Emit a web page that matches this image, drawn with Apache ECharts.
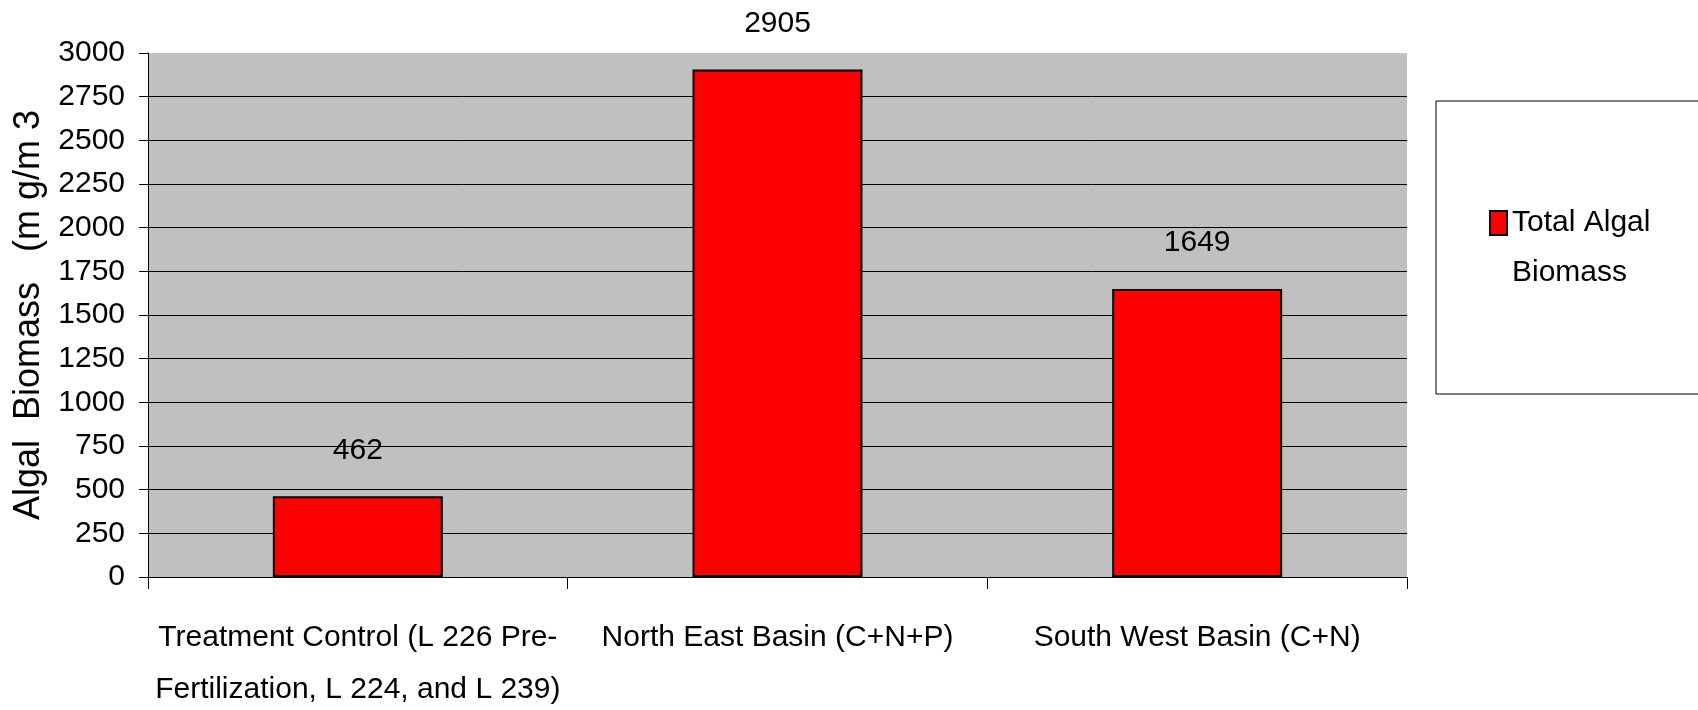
<!DOCTYPE html>
<html>
<head>
<meta charset="utf-8">
<script src="https://cdn.jsdelivr.net/npm/echarts@6/dist/echarts.min.js"></script>
<style>
  html, body { margin: 0; padding: 0; background: #fff; }
  #chart { width: 1698px; height: 710px; }
</style>
</head>
<body>
<div id="chart"></div>
<script>
// Algal biomass by treatment basin
const categories = [
  'Treatment Control (L 226 Pre-\nFertilization, L 224, and L 239)',
  'North East Basin (C+N+P)',
  'South West Basin (C+N)'
];
const biomass = [462, 2905, 1649];
const seriesName = 'Total Algal Biomass';
const legendLines = ['Total Algal', 'Biomass'];
const yTitle = 'Algal  Biomass   (m g/m 3';

const font = '"Liberation Sans", Arial, sans-serif';

const chart = echarts.init(document.getElementById('chart'), null, { renderer: 'canvas' });

chart.setOption({
  animation: false,
  backgroundColor: '#ffffff',
  grid: {
    left: 148, top: 53, width: 1259, height: 524,
    outerBoundsMode: 'none',
    containLabel: false,
    show: true, backgroundColor: '#c0c0c0', borderWidth: 0
  },
  legend: {
    left: 1436, top: 101,
    padding: [47, 60, 96, 53],
    borderColor: '#000', borderWidth: 1,
    backgroundColor: '#fff',
    icon: 'rect',
    itemWidth: 17, itemHeight: 24, itemGap: 7,
    selectedMode: false,
    // first line left empty so the name's first line sits level with the swatch
    formatter: () => ' \n' + legendLines.join('\n'),
    textStyle: {
      fontFamily: font, fontSize: 30, color: '#000', lineHeight: 50
    },
    data: [{ name: seriesName, itemStyle: { color: '#ff0000', borderColor: '#000', borderWidth: 2 } }]
  },
  xAxis: {
    type: 'category',
    data: categories,
    axisLine: { show: true, lineStyle: { color: '#000', width: 1 } },
    axisTick: { show: true, length: 12, alignWithLabel: false, lineStyle: { color: '#000' } },
    axisLabel: {
      interval: 0, margin: 35,
      fontFamily: font, fontSize: 30, color: '#000', lineHeight: 52
    },
    splitLine: { show: false }
  },
  yAxis: {
    type: 'value',
    min: 0, max: 3000, interval: 250,
    name: yTitle,
    nameLocation: 'middle',
    nameGap: 85,
    nameRotate: 90,
    nameTextStyle: { fontFamily: font, fontSize: 36, color: '#000' },
    axisLine: { show: true, lineStyle: { color: '#000', width: 1 } },
    axisTick: { show: true, length: 9, lineStyle: { color: '#000' } },
    axisLabel: {
      margin: 23, fontFamily: font, fontSize: 30, color: '#000',
      formatter: v => String(v)
    },
    splitLine: { show: true, showMaxLine: false, lineStyle: { color: '#000', width: 1 } }
  },
  series: [{
    name: seriesName,
    type: 'bar',
    data: biomass,
    barWidth: '40.5%',
    itemStyle: { color: '#ff0000', borderColor: '#000', borderWidth: 2 },
    label: {
      show: true, position: 'top', distance: 31,
      fontFamily: font, fontSize: 30, color: '#000'
    }
  }]
});
</script>
</body>
</html>
